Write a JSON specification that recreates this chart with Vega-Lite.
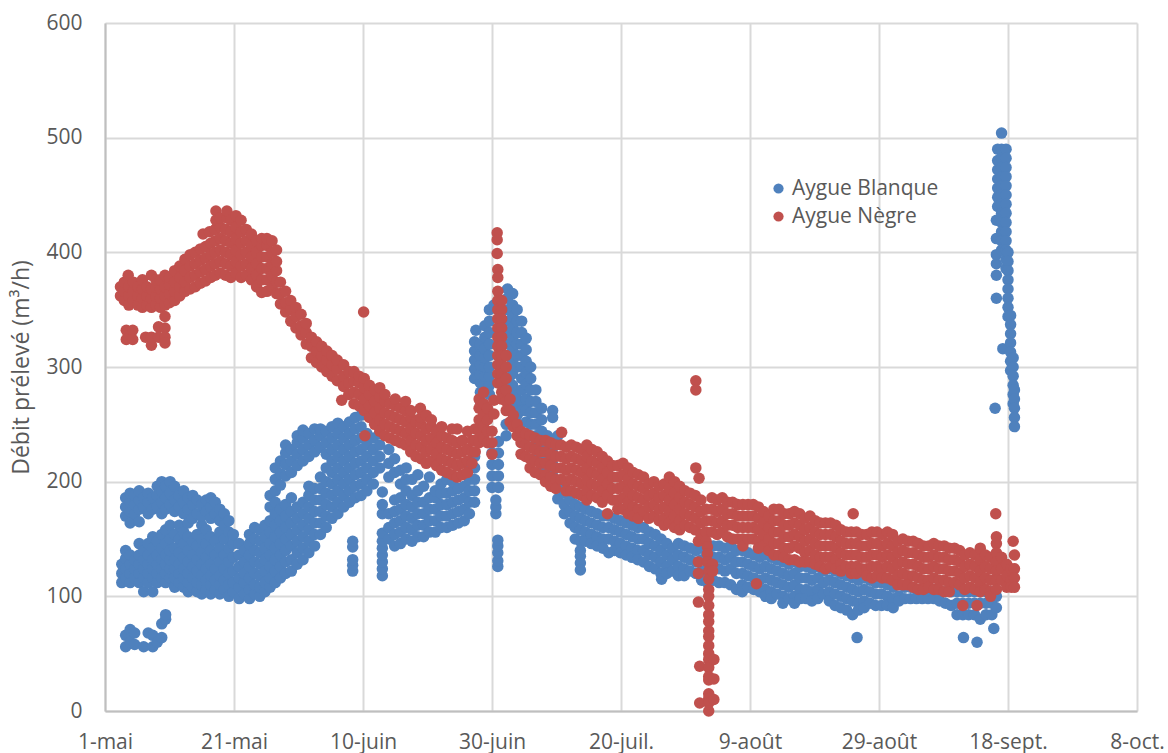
{"$schema":"https://vega.github.io/schema/vega-lite/v6.json","width":1032,"height":688,"autosize":"none","padding":{"left":105,"top":23,"right":31,"bottom":42},"background":"white","config":{"view":{"stroke":null},"font":"Open Sans"},"layer":[{"data":{"values":[{"d":2.6,"v":112},{"d":2.6,"v":120},{"d":2.6,"v":128},{"d":3.2,"v":56},{"d":3.2,"v":66},{"d":3.2,"v":116},{"d":3.2,"v":124},{"d":3.2,"v":133},{"d":3.2,"v":140},{"d":3.2,"v":170},{"d":3.2,"v":178},{"d":3.2,"v":186},{"d":3.9,"v":60},{"d":3.9,"v":71},{"d":3.9,"v":112},{"d":3.9,"v":120},{"d":3.9,"v":128},{"d":3.9,"v":136},{"d":3.9,"v":164},{"d":3.9,"v":174},{"d":3.9,"v":182},{"d":3.9,"v":190},{"d":4.6,"v":58},{"d":4.6,"v":68},{"d":4.6,"v":116},{"d":4.6,"v":124},{"d":4.6,"v":132},{"d":4.6,"v":172},{"d":4.6,"v":180},{"d":4.6,"v":188},{"d":5.3,"v":112},{"d":5.3,"v":120},{"d":5.3,"v":128},{"d":5.3,"v":136},{"d":5.3,"v":146},{"d":5.3,"v":165},{"d":5.3,"v":176},{"d":5.3,"v":184},{"d":5.3,"v":192},{"d":6,"v":56},{"d":6,"v":104},{"d":6,"v":116},{"d":6,"v":124},{"d":6,"v":132},{"d":6,"v":140},{"d":6,"v":178},{"d":6,"v":186},{"d":6.7,"v":68},{"d":6.7,"v":112},{"d":6.7,"v":120},{"d":6.7,"v":128},{"d":6.7,"v":136},{"d":6.7,"v":146},{"d":6.7,"v":172},{"d":6.7,"v":182},{"d":6.7,"v":190},{"d":7.4,"v":56},{"d":7.4,"v":66},{"d":7.4,"v":104},{"d":7.4,"v":116},{"d":7.4,"v":124},{"d":7.4,"v":132},{"d":7.4,"v":142},{"d":7.4,"v":152},{"d":7.4,"v":176},{"d":7.4,"v":186},{"d":8.1,"v":60},{"d":8.1,"v":112},{"d":8.1,"v":120},{"d":8.1,"v":128},{"d":8.1,"v":136},{"d":8.1,"v":148},{"d":8.1,"v":178},{"d":8.1,"v":188},{"d":8.1,"v":196},{"d":8.8,"v":64},{"d":8.8,"v":76},{"d":8.8,"v":116},{"d":8.8,"v":124},{"d":8.8,"v":132},{"d":8.8,"v":142},{"d":8.8,"v":154},{"d":8.8,"v":172},{"d":8.8,"v":182},{"d":8.8,"v":192},{"d":8.8,"v":200},{"d":9.4,"v":80},{"d":9.4,"v":84},{"d":9.4,"v":112},{"d":9.4,"v":120},{"d":9.4,"v":128},{"d":9.4,"v":136},{"d":9.4,"v":146},{"d":9.4,"v":158},{"d":9.4,"v":176},{"d":9.4,"v":186},{"d":9.4,"v":196},{"d":10.1,"v":116},{"d":10.1,"v":124},{"d":10.1,"v":132},{"d":10.1,"v":140},{"d":10.1,"v":150},{"d":10.1,"v":162},{"d":10.1,"v":180},{"d":10.1,"v":190},{"d":10.1,"v":200},{"d":10.8,"v":108},{"d":10.8,"v":116},{"d":10.8,"v":124},{"d":10.8,"v":132},{"d":10.8,"v":142},{"d":10.8,"v":154},{"d":10.8,"v":174},{"d":10.8,"v":184},{"d":10.8,"v":196},{"d":11.5,"v":112},{"d":11.5,"v":120},{"d":11.5,"v":128},{"d":11.5,"v":138},{"d":11.5,"v":150},{"d":11.5,"v":162},{"d":11.5,"v":178},{"d":11.5,"v":188},{"d":12.2,"v":108},{"d":12.2,"v":116},{"d":12.2,"v":124},{"d":12.2,"v":134},{"d":12.2,"v":146},{"d":12.2,"v":156},{"d":12.2,"v":172},{"d":12.2,"v":182},{"d":12.2,"v":192},{"d":12.9,"v":104},{"d":12.9,"v":112},{"d":12.9,"v":120},{"d":12.9,"v":130},{"d":12.9,"v":140},{"d":12.9,"v":152},{"d":12.9,"v":164},{"d":12.9,"v":176},{"d":12.9,"v":186},{"d":13.6,"v":108},{"d":13.6,"v":116},{"d":13.6,"v":126},{"d":13.6,"v":136},{"d":13.6,"v":148},{"d":13.6,"v":168},{"d":13.6,"v":180},{"d":13.6,"v":188},{"d":14.3,"v":104},{"d":14.3,"v":112},{"d":14.3,"v":122},{"d":14.3,"v":132},{"d":14.3,"v":144},{"d":14.3,"v":154},{"d":14.3,"v":172},{"d":14.3,"v":184},{"d":15,"v":102},{"d":15,"v":110},{"d":15,"v":118},{"d":15,"v":128},{"d":15,"v":138},{"d":15,"v":150},{"d":15,"v":162},{"d":15,"v":170},{"d":15,"v":180},{"d":15.7,"v":106},{"d":15.7,"v":114},{"d":15.7,"v":124},{"d":15.7,"v":134},{"d":15.7,"v":146},{"d":15.7,"v":158},{"d":15.7,"v":174},{"d":15.7,"v":184},{"d":16.4,"v":102},{"d":16.4,"v":110},{"d":16.4,"v":118},{"d":16.4,"v":128},{"d":16.4,"v":140},{"d":16.4,"v":152},{"d":16.4,"v":168},{"d":16.4,"v":178},{"d":16.4,"v":186},{"d":17.1,"v":106},{"d":17.1,"v":114},{"d":17.1,"v":124},{"d":17.1,"v":136},{"d":17.1,"v":148},{"d":17.1,"v":172},{"d":17.1,"v":182},{"d":17.8,"v":102},{"d":17.8,"v":110},{"d":17.8,"v":118},{"d":17.8,"v":130},{"d":17.8,"v":142},{"d":17.8,"v":156},{"d":17.8,"v":166},{"d":17.8,"v":176},{"d":18.5,"v":106},{"d":18.5,"v":114},{"d":18.5,"v":124},{"d":18.5,"v":136},{"d":18.5,"v":150},{"d":18.5,"v":162},{"d":18.5,"v":172},{"d":19.2,"v":100},{"d":19.2,"v":110},{"d":19.2,"v":120},{"d":19.2,"v":130},{"d":19.2,"v":142},{"d":19.2,"v":156},{"d":19.2,"v":166},{"d":19.9,"v":104},{"d":19.9,"v":112},{"d":19.9,"v":122},{"d":19.9,"v":134},{"d":19.9,"v":146},{"d":19.9,"v":154},{"d":20.8,"v":98},{"d":20.8,"v":108},{"d":20.8,"v":116},{"d":20.8,"v":126},{"d":20.8,"v":136},{"d":20.8,"v":146},{"d":21.6,"v":102},{"d":21.6,"v":112},{"d":21.6,"v":120},{"d":21.6,"v":130},{"d":21.6,"v":140},{"d":22.4,"v":98},{"d":22.4,"v":106},{"d":22.4,"v":116},{"d":22.4,"v":126},{"d":22.4,"v":136},{"d":22.4,"v":146},{"d":22.4,"v":154},{"d":23.2,"v":102},{"d":23.2,"v":110},{"d":23.2,"v":120},{"d":23.2,"v":130},{"d":23.2,"v":140},{"d":23.2,"v":150},{"d":23.2,"v":160},{"d":24,"v":100},{"d":24,"v":108},{"d":24,"v":118},{"d":24,"v":128},{"d":24,"v":138},{"d":24,"v":148},{"d":24,"v":158},{"d":24.8,"v":104},{"d":24.8,"v":112},{"d":24.8,"v":122},{"d":24.8,"v":132},{"d":24.8,"v":142},{"d":24.8,"v":152},{"d":24.8,"v":162},{"d":25.6,"v":108},{"d":25.6,"v":116},{"d":25.6,"v":126},{"d":25.6,"v":136},{"d":25.6,"v":146},{"d":25.6,"v":156},{"d":25.6,"v":166},{"d":25.6,"v":178},{"d":25.6,"v":188},{"d":26.4,"v":112},{"d":26.4,"v":122},{"d":26.4,"v":132},{"d":26.4,"v":142},{"d":26.4,"v":152},{"d":26.4,"v":162},{"d":26.4,"v":172},{"d":26.4,"v":182},{"d":26.4,"v":192},{"d":26.4,"v":202},{"d":26.4,"v":212},{"d":27.2,"v":116},{"d":27.2,"v":126},{"d":27.2,"v":136},{"d":27.2,"v":146},{"d":27.2,"v":156},{"d":27.2,"v":166},{"d":27.2,"v":176},{"d":27.2,"v":197},{"d":27.2,"v":207},{"d":27.2,"v":218},{"d":28,"v":120},{"d":28,"v":130},{"d":28,"v":140},{"d":28,"v":150},{"d":28,"v":160},{"d":28,"v":170},{"d":28,"v":180},{"d":28,"v":205},{"d":28,"v":215},{"d":28,"v":225},{"d":28,"v":232},{"d":28.9,"v":122},{"d":28.9,"v":132},{"d":28.9,"v":144},{"d":28.9,"v":154},{"d":28.9,"v":164},{"d":28.9,"v":174},{"d":28.9,"v":186},{"d":28.9,"v":208},{"d":28.9,"v":218},{"d":28.9,"v":228},{"d":29.8,"v":128},{"d":29.8,"v":138},{"d":29.8,"v":148},{"d":29.8,"v":158},{"d":29.8,"v":168},{"d":29.8,"v":178},{"d":29.8,"v":214},{"d":29.8,"v":224},{"d":29.8,"v":234},{"d":29.8,"v":240},{"d":30.7,"v":132},{"d":30.7,"v":142},{"d":30.7,"v":152},{"d":30.7,"v":162},{"d":30.7,"v":172},{"d":30.7,"v":182},{"d":30.7,"v":218},{"d":30.7,"v":228},{"d":30.7,"v":238},{"d":30.7,"v":245},{"d":31.6,"v":138},{"d":31.6,"v":148},{"d":31.6,"v":158},{"d":31.6,"v":168},{"d":31.6,"v":178},{"d":31.6,"v":188},{"d":31.6,"v":196},{"d":31.6,"v":222},{"d":31.6,"v":232},{"d":31.6,"v":242},{"d":32.5,"v":144},{"d":32.5,"v":154},{"d":32.5,"v":164},{"d":32.5,"v":174},{"d":32.5,"v":184},{"d":32.5,"v":194},{"d":32.5,"v":226},{"d":32.5,"v":236},{"d":32.5,"v":246},{"d":33.4,"v":154},{"d":33.4,"v":164},{"d":33.4,"v":174},{"d":33.4,"v":184},{"d":33.4,"v":194},{"d":33.4,"v":204},{"d":33.4,"v":230},{"d":33.4,"v":240},{"d":33.4,"v":246},{"d":34.3,"v":160},{"d":34.3,"v":170},{"d":34.3,"v":180},{"d":34.3,"v":190},{"d":34.3,"v":200},{"d":34.3,"v":212},{"d":34.3,"v":224},{"d":34.3,"v":234},{"d":34.3,"v":244},{"d":35.2,"v":168},{"d":35.2,"v":178},{"d":35.2,"v":188},{"d":35.2,"v":198},{"d":35.2,"v":208},{"d":35.2,"v":218},{"d":35.2,"v":228},{"d":35.2,"v":238},{"d":35.2,"v":248},{"d":36.1,"v":172},{"d":36.1,"v":182},{"d":36.1,"v":192},{"d":36.1,"v":202},{"d":36.1,"v":212},{"d":36.1,"v":222},{"d":36.1,"v":232},{"d":36.1,"v":242},{"d":36.1,"v":251},{"d":37,"v":178},{"d":37,"v":188},{"d":37,"v":198},{"d":37,"v":208},{"d":37,"v":218},{"d":37,"v":228},{"d":37,"v":238},{"d":37,"v":248},{"d":37.9,"v":182},{"d":37.9,"v":192},{"d":37.9,"v":202},{"d":37.9,"v":212},{"d":37.9,"v":222},{"d":37.9,"v":232},{"d":37.9,"v":242},{"d":37.9,"v":252},{"d":38.4,"v":122},{"d":38.4,"v":127},{"d":38.4,"v":132},{"d":38.4,"v":143},{"d":38.4,"v":148},{"d":38.8,"v":186},{"d":38.8,"v":196},{"d":38.8,"v":206},{"d":38.8,"v":216},{"d":38.8,"v":226},{"d":38.8,"v":236},{"d":38.8,"v":246},{"d":38.8,"v":256},{"d":39.7,"v":188},{"d":39.7,"v":198},{"d":39.7,"v":208},{"d":39.7,"v":218},{"d":39.7,"v":228},{"d":39.7,"v":238},{"d":39.7,"v":248},{"d":39.7,"v":258},{"d":40.6,"v":192},{"d":40.6,"v":202},{"d":40.6,"v":212},{"d":40.6,"v":222},{"d":40.6,"v":232},{"d":40.6,"v":242},{"d":41.6,"v":198},{"d":41.6,"v":208},{"d":41.6,"v":218},{"d":41.6,"v":228},{"d":41.6,"v":238},{"d":42.6,"v":212},{"d":42.6,"v":222},{"d":42.6,"v":232},{"d":42.6,"v":242},{"d":43,"v":118},{"d":43,"v":124},{"d":43,"v":130},{"d":43,"v":136},{"d":43,"v":142},{"d":43,"v":148},{"d":43,"v":155},{"d":43,"v":172},{"d":43,"v":180},{"d":43,"v":191},{"d":44,"v":150},{"d":44,"v":160},{"d":44,"v":172},{"d":44,"v":204},{"d":44,"v":216},{"d":44,"v":228},{"d":44.9,"v":144},{"d":44.9,"v":154},{"d":44.9,"v":164},{"d":44.9,"v":174},{"d":44.9,"v":184},{"d":44.9,"v":208},{"d":44.9,"v":220},{"d":45.8,"v":146},{"d":45.8,"v":156},{"d":45.8,"v":166},{"d":45.8,"v":176},{"d":45.8,"v":186},{"d":45.8,"v":198},{"d":45.8,"v":210},{"d":46.7,"v":150},{"d":46.7,"v":160},{"d":46.7,"v":170},{"d":46.7,"v":180},{"d":46.7,"v":192},{"d":46.7,"v":202},{"d":46.7,"v":212},{"d":47.6,"v":148},{"d":47.6,"v":158},{"d":47.6,"v":168},{"d":47.6,"v":178},{"d":47.6,"v":188},{"d":47.6,"v":202},{"d":48.5,"v":152},{"d":48.5,"v":162},{"d":48.5,"v":172},{"d":48.5,"v":182},{"d":48.5,"v":192},{"d":48.5,"v":206},{"d":49.4,"v":152},{"d":49.4,"v":162},{"d":49.4,"v":172},{"d":49.4,"v":182},{"d":49.4,"v":196},{"d":50.3,"v":156},{"d":50.3,"v":166},{"d":50.3,"v":176},{"d":50.3,"v":186},{"d":50.3,"v":204},{"d":51.2,"v":156},{"d":51.2,"v":166},{"d":51.2,"v":176},{"d":51.2,"v":186},{"d":51.2,"v":192},{"d":52.1,"v":160},{"d":52.1,"v":170},{"d":52.1,"v":180},{"d":52.1,"v":190},{"d":52.1,"v":198},{"d":53,"v":160},{"d":53,"v":170},{"d":53,"v":180},{"d":53,"v":190},{"d":53,"v":202},{"d":53.9,"v":162},{"d":53.9,"v":172},{"d":53.9,"v":182},{"d":53.9,"v":192},{"d":53.9,"v":200},{"d":54.8,"v":164},{"d":54.8,"v":174},{"d":54.8,"v":184},{"d":54.8,"v":194},{"d":55.7,"v":166},{"d":55.7,"v":176},{"d":55.7,"v":186},{"d":55.7,"v":196},{"d":56.5,"v":172},{"d":56.5,"v":182},{"d":56.5,"v":192},{"d":56.5,"v":202},{"d":56.5,"v":212},{"d":57.3,"v":182},{"d":57.3,"v":192},{"d":57.3,"v":202},{"d":57.3,"v":212},{"d":57.3,"v":222},{"d":57.3,"v":290},{"d":57.3,"v":298},{"d":57.3,"v":306},{"d":57.3,"v":314},{"d":57.3,"v":322},{"d":57.5,"v":332},{"d":58.2,"v":270},{"d":58.2,"v":278},{"d":58.2,"v":286},{"d":58.2,"v":294},{"d":58.2,"v":302},{"d":58.2,"v":310},{"d":58.2,"v":318},{"d":58.2,"v":320},{"d":58.9,"v":284},{"d":58.9,"v":292},{"d":58.9,"v":300},{"d":58.9,"v":308},{"d":58.9,"v":316},{"d":58.9,"v":326},{"d":58.9,"v":336},{"d":59.6,"v":276},{"d":59.6,"v":284},{"d":59.6,"v":292},{"d":59.6,"v":300},{"d":59.6,"v":310},{"d":59.6,"v":320},{"d":59.6,"v":330},{"d":59.6,"v":340},{"d":59.6,"v":350},{"d":60,"v":195},{"d":60,"v":205},{"d":60,"v":215},{"d":60,"v":225},{"d":60.3,"v":354},{"d":60.6,"v":172},{"d":60.6,"v":178},{"d":60.6,"v":184},{"d":60.9,"v":126},{"d":60.9,"v":131},{"d":60.9,"v":138},{"d":60.9,"v":144},{"d":60.9,"v":149},{"d":61,"v":195},{"d":61,"v":205},{"d":61,"v":215},{"d":61,"v":225},{"d":61,"v":235},{"d":62.2,"v":240},{"d":62.2,"v":250},{"d":62.4,"v":368},{"d":62.4,"v":360},{"d":62.4,"v":350},{"d":62.6,"v":340},{"d":62.6,"v":330},{"d":62.6,"v":320},{"d":62.6,"v":310},{"d":62.6,"v":300},{"d":62.6,"v":290},{"d":62.6,"v":280},{"d":63.2,"v":364},{"d":63.2,"v":354},{"d":63.2,"v":344},{"d":63.2,"v":334},{"d":63.2,"v":324},{"d":63.2,"v":314},{"d":63.2,"v":304},{"d":63.2,"v":294},{"d":63.2,"v":284},{"d":63.2,"v":274},{"d":63.2,"v":264},{"d":63.9,"v":350},{"d":63.9,"v":340},{"d":63.9,"v":330},{"d":63.9,"v":320},{"d":63.9,"v":310},{"d":63.9,"v":300},{"d":63.9,"v":278},{"d":63.9,"v":268},{"d":63.9,"v":258},{"d":64.6,"v":340},{"d":64.6,"v":330},{"d":64.6,"v":320},{"d":64.6,"v":310},{"d":64.6,"v":300},{"d":64.6,"v":290},{"d":64.6,"v":280},{"d":64.6,"v":270},{"d":64.6,"v":262},{"d":65.3,"v":325},{"d":65.3,"v":315},{"d":65.3,"v":305},{"d":65.3,"v":295},{"d":65.3,"v":285},{"d":65.3,"v":272},{"d":65.3,"v":262},{"d":65.3,"v":252},{"d":65.3,"v":240},{"d":66,"v":300},{"d":66,"v":290},{"d":66,"v":280},{"d":66,"v":270},{"d":66,"v":260},{"d":66,"v":250},{"d":66,"v":240},{"d":66,"v":230},{"d":66.8,"v":280},{"d":66.8,"v":270},{"d":66.8,"v":260},{"d":66.8,"v":250},{"d":66.8,"v":240},{"d":66.8,"v":230},{"d":66.8,"v":220},{"d":67.7,"v":264},{"d":67.7,"v":254},{"d":67.7,"v":244},{"d":67.7,"v":232},{"d":67.7,"v":220},{"d":67.7,"v":210},{"d":68.6,"v":240},{"d":68.6,"v":230},{"d":68.6,"v":220},{"d":68.6,"v":210},{"d":69.4,"v":262},{"d":69.4,"v":256},{"d":69.4,"v":225},{"d":69.4,"v":215},{"d":69.4,"v":205},{"d":70.2,"v":240},{"d":70.2,"v":195},{"d":70.2,"v":185},{"d":71.2,"v":190},{"d":71.2,"v":180},{"d":71.2,"v":172},{"d":72.1,"v":184},{"d":72.1,"v":174},{"d":72.1,"v":164},{"d":72.9,"v":180},{"d":72.9,"v":170},{"d":72.9,"v":160},{"d":72.9,"v":150},{"d":73.7,"v":178},{"d":73.7,"v":168},{"d":73.7,"v":158},{"d":73.7,"v":148},{"d":73.7,"v":140},{"d":73.7,"v":135},{"d":73.7,"v":129},{"d":73.7,"v":123},{"d":74.5,"v":176},{"d":74.5,"v":166},{"d":74.5,"v":156},{"d":74.5,"v":148},{"d":75.4,"v":174},{"d":75.4,"v":164},{"d":75.4,"v":154},{"d":75.4,"v":146},{"d":76.3,"v":172},{"d":76.3,"v":162},{"d":76.3,"v":152},{"d":76.3,"v":144},{"d":77.2,"v":170},{"d":77.2,"v":160},{"d":77.2,"v":150},{"d":77.2,"v":142},{"d":78.1,"v":170},{"d":78.1,"v":160},{"d":78.1,"v":150},{"d":78.1,"v":138},{"d":79,"v":168},{"d":79,"v":158},{"d":79,"v":148},{"d":79,"v":140},{"d":79.9,"v":166},{"d":79.9,"v":156},{"d":79.9,"v":146},{"d":79.9,"v":138},{"d":80.8,"v":164},{"d":80.8,"v":154},{"d":80.8,"v":144},{"d":80.8,"v":136},{"d":81.7,"v":162},{"d":81.7,"v":152},{"d":81.7,"v":142},{"d":81.7,"v":134},{"d":82.6,"v":160},{"d":82.6,"v":150},{"d":82.6,"v":140},{"d":82.6,"v":132},{"d":83.5,"v":160},{"d":83.5,"v":150},{"d":83.5,"v":140},{"d":83.5,"v":130},{"d":84.4,"v":156},{"d":84.4,"v":146},{"d":84.4,"v":136},{"d":84.4,"v":126},{"d":85.3,"v":154},{"d":85.3,"v":144},{"d":85.3,"v":134},{"d":85.3,"v":124},{"d":86.2,"v":150},{"d":86.2,"v":140},{"d":86.2,"v":130},{"d":86.2,"v":120},{"d":86.3,"v":115},{"d":87.1,"v":146},{"d":87.1,"v":136},{"d":87.1,"v":126},{"d":87.1,"v":120},{"d":88,"v":142},{"d":88,"v":132},{"d":88,"v":122},{"d":88.9,"v":146},{"d":88.9,"v":136},{"d":88.9,"v":126},{"d":88.9,"v":118},{"d":89.8,"v":144},{"d":89.8,"v":134},{"d":89.8,"v":124},{"d":89.8,"v":118},{"d":90.7,"v":142},{"d":90.7,"v":132},{"d":90.7,"v":122},{"d":91.6,"v":140},{"d":91.6,"v":130},{"d":91.6,"v":120},{"d":92.5,"v":142},{"d":92.5,"v":132},{"d":92.5,"v":122},{"d":92.5,"v":114},{"d":93.4,"v":140},{"d":93.4,"v":130},{"d":93.4,"v":120},{"d":93.4,"v":112},{"d":94.3,"v":144},{"d":94.3,"v":134},{"d":94.3,"v":124},{"d":94.3,"v":114},{"d":95.2,"v":144},{"d":95.2,"v":134},{"d":95.2,"v":124},{"d":95.2,"v":112},{"d":96.1,"v":142},{"d":96.1,"v":132},{"d":96.1,"v":122},{"d":96.1,"v":112},{"d":97,"v":144},{"d":97,"v":134},{"d":97,"v":124},{"d":97,"v":110},{"d":97.9,"v":140},{"d":97.9,"v":130},{"d":97.9,"v":120},{"d":97.9,"v":106},{"d":98.8,"v":140},{"d":98.8,"v":130},{"d":98.8,"v":120},{"d":98.8,"v":110},{"d":98.8,"v":104},{"d":99.7,"v":138},{"d":99.7,"v":128},{"d":99.7,"v":118},{"d":99.7,"v":108},{"d":100.6,"v":136},{"d":100.6,"v":126},{"d":100.6,"v":116},{"d":100.6,"v":106},{"d":101.5,"v":134},{"d":101.5,"v":124},{"d":101.5,"v":114},{"d":101.5,"v":104},{"d":102.4,"v":136},{"d":102.4,"v":126},{"d":102.4,"v":116},{"d":102.4,"v":106},{"d":102.4,"v":100},{"d":103.3,"v":134},{"d":103.3,"v":124},{"d":103.3,"v":114},{"d":103.3,"v":104},{"d":103.3,"v":98},{"d":104.2,"v":132},{"d":104.2,"v":122},{"d":104.2,"v":112},{"d":104.2,"v":102},{"d":105.1,"v":130},{"d":105.1,"v":120},{"d":105.1,"v":110},{"d":105.1,"v":100},{"d":105.1,"v":94},{"d":106,"v":128},{"d":106,"v":118},{"d":106,"v":108},{"d":106,"v":98},{"d":106.9,"v":130},{"d":106.9,"v":120},{"d":106.9,"v":110},{"d":106.9,"v":100},{"d":106.9,"v":94},{"d":107.8,"v":126},{"d":107.8,"v":116},{"d":107.8,"v":106},{"d":107.8,"v":98},{"d":108.7,"v":126},{"d":108.7,"v":116},{"d":108.7,"v":106},{"d":108.7,"v":98},{"d":109.6,"v":124},{"d":109.6,"v":114},{"d":109.6,"v":104},{"d":109.6,"v":96},{"d":110.5,"v":126},{"d":110.5,"v":116},{"d":110.5,"v":106},{"d":110.5,"v":98},{"d":111.4,"v":122},{"d":111.4,"v":112},{"d":111.4,"v":102},{"d":112.3,"v":124},{"d":112.3,"v":114},{"d":112.3,"v":104},{"d":112.3,"v":96},{"d":113.2,"v":122},{"d":113.2,"v":112},{"d":113.2,"v":102},{"d":113.2,"v":92},{"d":114.1,"v":120},{"d":114.1,"v":110},{"d":114.1,"v":100},{"d":114.1,"v":90},{"d":115,"v":118},{"d":115,"v":108},{"d":115,"v":98},{"d":115,"v":88},{"d":115.9,"v":116},{"d":115.9,"v":106},{"d":115.9,"v":96},{"d":115.9,"v":84},{"d":116.6,"v":64},{"d":116.8,"v":114},{"d":116.8,"v":104},{"d":116.8,"v":94},{"d":116.8,"v":88},{"d":117.7,"v":116},{"d":117.7,"v":106},{"d":117.7,"v":96},{"d":117.7,"v":90},{"d":118.6,"v":114},{"d":118.6,"v":104},{"d":118.6,"v":94},{"d":119.5,"v":112},{"d":119.5,"v":102},{"d":119.5,"v":92},{"d":120.4,"v":112},{"d":120.4,"v":102},{"d":120.4,"v":92},{"d":121.3,"v":110},{"d":121.3,"v":100},{"d":121.3,"v":92},{"d":122.2,"v":108},{"d":122.2,"v":98},{"d":122.2,"v":90},{"d":123.1,"v":110},{"d":123.1,"v":100},{"d":123.1,"v":96},{"d":124,"v":108},{"d":124,"v":98},{"d":124.9,"v":108},{"d":124.9,"v":98},{"d":125.8,"v":106},{"d":125.8,"v":98},{"d":126.7,"v":106},{"d":126.7,"v":98},{"d":127.6,"v":106},{"d":127.6,"v":98},{"d":128.5,"v":106},{"d":128.5,"v":98},{"d":129.4,"v":104},{"d":129.4,"v":96},{"d":130.3,"v":104},{"d":130.3,"v":94},{"d":131.2,"v":104},{"d":131.2,"v":92},{"d":132.1,"v":104},{"d":132.1,"v":94},{"d":132.1,"v":84},{"d":133,"v":104},{"d":133,"v":94},{"d":133,"v":84},{"d":133.1,"v":64},{"d":133.9,"v":104},{"d":133.9,"v":94},{"d":133.9,"v":84},{"d":134.8,"v":104},{"d":134.8,"v":94},{"d":134.8,"v":84},{"d":135.2,"v":60},{"d":135.7,"v":104},{"d":135.7,"v":94},{"d":135.7,"v":80},{"d":136.6,"v":104},{"d":136.6,"v":94},{"d":136.6,"v":84},{"d":137.5,"v":104},{"d":137.5,"v":94},{"d":137.5,"v":84},{"d":137.8,"v":72},{"d":138,"v":264},{"d":138.2,"v":100},{"d":138.2,"v":90},{"d":138.2,"v":360},{"d":138.2,"v":380},{"d":138.2,"v":390},{"d":138.2,"v":398},{"d":138.2,"v":412},{"d":138.2,"v":428},{"d":138.4,"v":440},{"d":138.4,"v":448},{"d":138.4,"v":456},{"d":138.4,"v":464},{"d":138.4,"v":472},{"d":138.4,"v":480},{"d":138.4,"v":490},{"d":139,"v":504},{"d":139,"v":490},{"d":139,"v":482},{"d":139,"v":474},{"d":139,"v":466},{"d":139,"v":458},{"d":139,"v":450},{"d":139,"v":442},{"d":139,"v":434},{"d":139,"v":426},{"d":139,"v":418},{"d":139,"v":410},{"d":139,"v":402},{"d":139.2,"v":316},{"d":139.7,"v":490},{"d":139.7,"v":482},{"d":139.7,"v":474},{"d":139.7,"v":466},{"d":139.7,"v":458},{"d":139.7,"v":450},{"d":139.7,"v":442},{"d":139.7,"v":434},{"d":139.7,"v":426},{"d":139.7,"v":418},{"d":139.7,"v":410},{"d":139.7,"v":402},{"d":139.7,"v":394},{"d":139.7,"v":386},{"d":140,"v":400},{"d":140,"v":392},{"d":140,"v":384},{"d":140,"v":376},{"d":140,"v":368},{"d":140,"v":360},{"d":140,"v":352},{"d":140,"v":344},{"d":140.4,"v":345},{"d":140.4,"v":337},{"d":140.4,"v":329},{"d":140.4,"v":321},{"d":140.4,"v":313},{"d":140.4,"v":305},{"d":140.4,"v":297},{"d":140.8,"v":308},{"d":140.8,"v":300},{"d":140.8,"v":292},{"d":140.8,"v":284},{"d":140.8,"v":276},{"d":140.8,"v":268},{"d":141,"v":280},{"d":141,"v":272},{"d":141,"v":264},{"d":141,"v":256},{"d":141,"v":248}]},"mark":{"type":"circle","size":132,"opacity":1},"encoding":{"x":{"field":"d","type":"quantitative","scale":{"domain":[0,160],"nice":false},"axis":{"values":[0,20,40,60,80,100,120,140,160],"labelExpr":"['1-mai','21-mai','10-juin','30-juin','20-juil.','9-août','29-août','18-sept.','8-oct.'][datum.value/20]","title":null,"grid":true,"gridColor":"#D9D9D9","gridWidth":2,"domainColor":"#BFBFBF","domainWidth":2,"ticks":false,"labelFontSize":21,"labelColor":"#595959","labelPadding":20,"labelFont":"Open Sans","labelFlush":false,"labelBound":false,"labelOverlap":false}},"y":{"field":"v","type":"quantitative","scale":{"domain":[0,600],"nice":false},"axis":{"values":[0,100,200,300,400,500,600],"title":"Débit prélevé (m³/h)","titleFontSize":23,"titleColor":"#595959","titleFontWeight":"normal","titleFont":"Open Sans","titlePadding":12,"grid":true,"gridColor":"#D9D9D9","gridWidth":2,"domainColor":"#BFBFBF","domainWidth":2,"ticks":false,"labelFontSize":21,"labelColor":"#595959","labelPadding":23,"labelFont":"Open Sans"}},"color":{"datum":"Aygue Blanque","scale":{"domain":["Aygue Blanque","Aygue Nègre"],"range":["#4F81BD","#C0504D"]},"legend":{"orient":"none","legendX":663,"legendY":155,"title":null,"labelFontSize":21,"labelColor":"#595959","labelFont":"Open Sans","symbolType":"circle","symbolSize":105,"rowPadding":6,"labelOffset":3,"symbolOpacity":1}}}},{"data":{"values":[{"d":2.4,"v":362},{"d":2.4,"v":370},{"d":3,"v":358},{"d":3,"v":366},{"d":3,"v":374},{"d":3.3,"v":332},{"d":3.3,"v":324},{"d":3.6,"v":380},{"d":3.7,"v":354},{"d":3.7,"v":362},{"d":3.7,"v":370},{"d":4.3,"v":332},{"d":4.3,"v":324},{"d":4.4,"v":358},{"d":4.4,"v":366},{"d":4.4,"v":374},{"d":5.1,"v":354},{"d":5.1,"v":362},{"d":5.1,"v":370},{"d":5.8,"v":352},{"d":5.8,"v":360},{"d":5.8,"v":368},{"d":5.8,"v":376},{"d":6.3,"v":326},{"d":6.5,"v":354},{"d":6.5,"v":362},{"d":6.5,"v":370},{"d":7.2,"v":319},{"d":7.2,"v":326},{"d":7.2,"v":352},{"d":7.2,"v":360},{"d":7.2,"v":368},{"d":7.2,"v":380},{"d":7.9,"v":354},{"d":7.9,"v":362},{"d":7.9,"v":370},{"d":7.9,"v":376},{"d":8.3,"v":335},{"d":8.3,"v":326},{"d":8.6,"v":352},{"d":8.6,"v":360},{"d":8.6,"v":368},{"d":8.6,"v":376},{"d":9.3,"v":344},{"d":9.3,"v":334},{"d":9.3,"v":326},{"d":9.3,"v":321},{"d":9.3,"v":354},{"d":9.3,"v":362},{"d":9.3,"v":370},{"d":9.3,"v":380},{"d":10,"v":356},{"d":10,"v":364},{"d":10,"v":372},{"d":10,"v":378},{"d":10.8,"v":358},{"d":10.8,"v":366},{"d":10.8,"v":374},{"d":10.8,"v":384},{"d":11.6,"v":362},{"d":11.6,"v":370},{"d":11.6,"v":378},{"d":11.6,"v":388},{"d":12.4,"v":366},{"d":12.4,"v":374},{"d":12.4,"v":384},{"d":12.4,"v":394},{"d":13.2,"v":368},{"d":13.2,"v":378},{"d":13.2,"v":388},{"d":13.2,"v":398},{"d":14,"v":370},{"d":14,"v":380},{"d":14,"v":390},{"d":14,"v":400},{"d":14.8,"v":373},{"d":14.8,"v":383},{"d":14.8,"v":393},{"d":14.8,"v":403},{"d":15.2,"v":416},{"d":15.6,"v":375},{"d":15.6,"v":385},{"d":15.6,"v":395},{"d":15.6,"v":405},{"d":16.2,"v":418},{"d":16.4,"v":378},{"d":16.4,"v":388},{"d":16.4,"v":398},{"d":16.4,"v":408},{"d":17.1,"v":380},{"d":17.1,"v":390},{"d":17.1,"v":400},{"d":17.1,"v":410},{"d":17.1,"v":420},{"d":17.2,"v":436},{"d":17.2,"v":428},{"d":17.9,"v":382},{"d":17.9,"v":392},{"d":17.9,"v":402},{"d":17.9,"v":412},{"d":17.9,"v":422},{"d":17.9,"v":430},{"d":18.7,"v":380},{"d":18.7,"v":390},{"d":18.7,"v":400},{"d":18.7,"v":410},{"d":18.7,"v":420},{"d":18.9,"v":430},{"d":18.9,"v":436},{"d":19.5,"v":378},{"d":19.5,"v":388},{"d":19.5,"v":398},{"d":19.5,"v":408},{"d":19.5,"v":418},{"d":19.5,"v":428},{"d":20.3,"v":382},{"d":20.3,"v":392},{"d":20.3,"v":402},{"d":20.3,"v":412},{"d":20.3,"v":422},{"d":20.3,"v":432},{"d":21.1,"v":378},{"d":21.1,"v":388},{"d":21.1,"v":398},{"d":21.1,"v":408},{"d":21.1,"v":418},{"d":21.1,"v":428},{"d":21.9,"v":380},{"d":21.9,"v":390},{"d":21.9,"v":400},{"d":21.9,"v":410},{"d":21.9,"v":420},{"d":22.7,"v":376},{"d":22.7,"v":386},{"d":22.7,"v":396},{"d":22.7,"v":406},{"d":22.7,"v":416},{"d":23.5,"v":370},{"d":23.5,"v":380},{"d":23.5,"v":390},{"d":23.5,"v":400},{"d":23.5,"v":410},{"d":24.3,"v":365},{"d":24.3,"v":376},{"d":24.3,"v":386},{"d":24.3,"v":396},{"d":24.3,"v":406},{"d":24.3,"v":412},{"d":25.1,"v":366},{"d":25.1,"v":376},{"d":25.1,"v":386},{"d":25.1,"v":396},{"d":25.1,"v":406},{"d":25.1,"v":412},{"d":25.9,"v":370},{"d":25.9,"v":380},{"d":25.9,"v":390},{"d":25.9,"v":400},{"d":25.9,"v":410},{"d":26.6,"v":364},{"d":26.6,"v":374},{"d":26.6,"v":384},{"d":26.6,"v":392},{"d":26.6,"v":402},{"d":27.2,"v":355},{"d":27.2,"v":364},{"d":27.2,"v":374},{"d":28,"v":348},{"d":28,"v":356},{"d":28,"v":366},{"d":28.8,"v":340},{"d":28.8,"v":350},{"d":28.8,"v":358},{"d":29.6,"v":334},{"d":29.6,"v":344},{"d":29.6,"v":352},{"d":30.4,"v":328},{"d":30.4,"v":336},{"d":30.4,"v":346},{"d":31.2,"v":320},{"d":31.2,"v":330},{"d":31.2,"v":338},{"d":32,"v":308},{"d":32,"v":318},{"d":32,"v":326},{"d":32.8,"v":304},{"d":32.8,"v":314},{"d":32.8,"v":322},{"d":33.6,"v":300},{"d":33.6,"v":310},{"d":33.6,"v":318},{"d":34.4,"v":296},{"d":34.4,"v":306},{"d":34.4,"v":314},{"d":35.2,"v":292},{"d":35.2,"v":302},{"d":35.2,"v":310},{"d":36,"v":288},{"d":36,"v":298},{"d":36,"v":306},{"d":36.7,"v":271},{"d":37,"v":283},{"d":37,"v":292},{"d":37,"v":302},{"d":37.8,"v":276},{"d":37.8,"v":286},{"d":37.8,"v":296},{"d":38.6,"v":268},{"d":38.6,"v":278},{"d":38.6,"v":288},{"d":38.6,"v":296},{"d":39.4,"v":266},{"d":39.4,"v":276},{"d":39.4,"v":286},{"d":39.4,"v":292},{"d":40.1,"v":348},{"d":40.3,"v":240},{"d":40.2,"v":262},{"d":40.2,"v":272},{"d":40.2,"v":282},{"d":40.2,"v":290},{"d":41,"v":256},{"d":41,"v":266},{"d":41,"v":276},{"d":41,"v":284},{"d":41.8,"v":250},{"d":41.8,"v":260},{"d":41.8,"v":270},{"d":41.8,"v":280},{"d":42.6,"v":244},{"d":42.6,"v":254},{"d":42.6,"v":264},{"d":42.6,"v":274},{"d":42.6,"v":282},{"d":43.4,"v":240},{"d":43.4,"v":250},{"d":43.4,"v":260},{"d":43.4,"v":270},{"d":43.4,"v":276},{"d":44.2,"v":238},{"d":44.2,"v":248},{"d":44.2,"v":258},{"d":44.2,"v":268},{"d":45,"v":236},{"d":45,"v":246},{"d":45,"v":256},{"d":45,"v":266},{"d":45,"v":272},{"d":45.8,"v":234},{"d":45.8,"v":244},{"d":45.8,"v":254},{"d":45.8,"v":264},{"d":46.6,"v":232},{"d":46.6,"v":242},{"d":46.6,"v":252},{"d":46.6,"v":262},{"d":46.6,"v":270},{"d":47.4,"v":226},{"d":47.4,"v":236},{"d":47.4,"v":246},{"d":47.4,"v":256},{"d":47.4,"v":262},{"d":48.2,"v":222},{"d":48.2,"v":232},{"d":48.2,"v":242},{"d":48.2,"v":252},{"d":48.9,"v":264},{"d":49,"v":220},{"d":49,"v":230},{"d":49,"v":240},{"d":49,"v":250},{"d":49,"v":256},{"d":49.8,"v":216},{"d":49.8,"v":226},{"d":49.8,"v":236},{"d":49.8,"v":246},{"d":49.8,"v":258},{"d":50.6,"v":218},{"d":50.6,"v":228},{"d":50.6,"v":238},{"d":50.6,"v":248},{"d":50.6,"v":254},{"d":51.4,"v":214},{"d":51.4,"v":224},{"d":51.4,"v":234},{"d":51.4,"v":244},{"d":52.2,"v":210},{"d":52.2,"v":220},{"d":52.2,"v":230},{"d":52.2,"v":240},{"d":52.2,"v":248},{"d":53,"v":208},{"d":53,"v":218},{"d":53,"v":228},{"d":53,"v":238},{"d":53.8,"v":206},{"d":53.8,"v":216},{"d":53.8,"v":226},{"d":53.8,"v":236},{"d":53.8,"v":246},{"d":54.6,"v":204},{"d":54.6,"v":214},{"d":54.6,"v":224},{"d":54.6,"v":234},{"d":54.6,"v":246},{"d":55.4,"v":206},{"d":55.4,"v":216},{"d":55.4,"v":226},{"d":55.4,"v":236},{"d":56.2,"v":208},{"d":56.2,"v":218},{"d":56.2,"v":228},{"d":56.2,"v":244},{"d":56.9,"v":216},{"d":56.9,"v":226},{"d":56.9,"v":236},{"d":57.4,"v":226},{"d":57.4,"v":236},{"d":57.4,"v":246},{"d":58,"v":234},{"d":58,"v":244},{"d":58,"v":254},{"d":58,"v":264},{"d":58,"v":272},{"d":58.7,"v":238},{"d":58.7,"v":248},{"d":58.7,"v":258},{"d":58.7,"v":268},{"d":58.7,"v":278},{"d":59.3,"v":234},{"d":59.3,"v":244},{"d":59.3,"v":254},{"d":59.3,"v":264},{"d":60,"v":224},{"d":60,"v":234},{"d":60,"v":244},{"d":60.3,"v":271},{"d":60.3,"v":259},{"d":60.8,"v":417},{"d":60.8,"v":411},{"d":60.8,"v":399},{"d":60.9,"v":385},{"d":60.9,"v":378},{"d":60.9,"v":366},{"d":60.9,"v":358},{"d":60.9,"v":350},{"d":60.9,"v":342},{"d":60.9,"v":334},{"d":60.9,"v":326},{"d":60.9,"v":318},{"d":60.9,"v":310},{"d":60.9,"v":302},{"d":60.9,"v":294},{"d":60.9,"v":286},{"d":61.5,"v":358},{"d":61.5,"v":350},{"d":61.5,"v":342},{"d":61.5,"v":334},{"d":61.5,"v":326},{"d":61.5,"v":318},{"d":61.5,"v":310},{"d":61.5,"v":302},{"d":61.5,"v":294},{"d":61.5,"v":286},{"d":61.5,"v":278},{"d":61.5,"v":272},{"d":62.2,"v":310},{"d":62.2,"v":300},{"d":62.2,"v":290},{"d":62.2,"v":280},{"d":62.2,"v":270},{"d":62.2,"v":262},{"d":62.8,"v":272},{"d":62.8,"v":262},{"d":62.8,"v":252},{"d":63.3,"v":258},{"d":63.3,"v":248},{"d":63.9,"v":250},{"d":63.9,"v":240},{"d":64.5,"v":244},{"d":64.5,"v":234},{"d":64.5,"v":224},{"d":65.2,"v":242},{"d":65.2,"v":232},{"d":65.2,"v":222},{"d":65.9,"v":240},{"d":65.9,"v":230},{"d":65.9,"v":220},{"d":65.9,"v":212},{"d":66.7,"v":238},{"d":66.7,"v":228},{"d":66.7,"v":218},{"d":66.7,"v":208},{"d":67.5,"v":236},{"d":67.5,"v":226},{"d":67.5,"v":216},{"d":67.5,"v":206},{"d":68.3,"v":236},{"d":68.3,"v":226},{"d":68.3,"v":216},{"d":68.3,"v":206},{"d":68.3,"v":200},{"d":69.1,"v":234},{"d":69.1,"v":224},{"d":69.1,"v":214},{"d":69.1,"v":204},{"d":69.1,"v":196},{"d":69.9,"v":232},{"d":69.9,"v":222},{"d":69.9,"v":212},{"d":69.9,"v":202},{"d":69.9,"v":194},{"d":70.8,"v":243},{"d":70.7,"v":232},{"d":70.7,"v":222},{"d":70.7,"v":212},{"d":70.7,"v":202},{"d":71.5,"v":230},{"d":71.5,"v":220},{"d":71.5,"v":210},{"d":71.5,"v":200},{"d":71.5,"v":192},{"d":72.3,"v":232},{"d":72.3,"v":222},{"d":72.3,"v":212},{"d":72.3,"v":202},{"d":72.3,"v":192},{"d":73.1,"v":230},{"d":73.1,"v":220},{"d":73.1,"v":210},{"d":73.1,"v":200},{"d":73.1,"v":190},{"d":73.9,"v":228},{"d":73.9,"v":218},{"d":73.9,"v":208},{"d":73.9,"v":198},{"d":73.9,"v":188},{"d":74.7,"v":232},{"d":74.7,"v":222},{"d":74.7,"v":212},{"d":74.7,"v":202},{"d":74.7,"v":192},{"d":74.7,"v":184},{"d":75.5,"v":228},{"d":75.5,"v":218},{"d":75.5,"v":208},{"d":75.5,"v":198},{"d":75.5,"v":188},{"d":76.3,"v":226},{"d":76.3,"v":216},{"d":76.3,"v":206},{"d":76.3,"v":196},{"d":76.3,"v":186},{"d":77.1,"v":222},{"d":77.1,"v":212},{"d":77.1,"v":202},{"d":77.1,"v":192},{"d":77.1,"v":182},{"d":77.9,"v":218},{"d":77.9,"v":208},{"d":77.9,"v":198},{"d":77.9,"v":188},{"d":77.9,"v":172},{"d":78.7,"v":214},{"d":78.7,"v":204},{"d":78.7,"v":194},{"d":78.7,"v":184},{"d":79.5,"v":214},{"d":79.5,"v":204},{"d":79.5,"v":194},{"d":79.5,"v":184},{"d":79.5,"v":176},{"d":80.3,"v":216},{"d":80.3,"v":206},{"d":80.3,"v":196},{"d":80.3,"v":186},{"d":80.3,"v":176},{"d":81.1,"v":212},{"d":81.1,"v":202},{"d":81.1,"v":192},{"d":81.1,"v":182},{"d":81.1,"v":172},{"d":81.9,"v":208},{"d":81.9,"v":198},{"d":81.9,"v":188},{"d":81.9,"v":178},{"d":81.9,"v":170},{"d":82.7,"v":206},{"d":82.7,"v":196},{"d":82.7,"v":186},{"d":82.7,"v":176},{"d":82.7,"v":168},{"d":83.5,"v":204},{"d":83.5,"v":194},{"d":83.5,"v":184},{"d":83.5,"v":174},{"d":84.3,"v":198},{"d":84.3,"v":188},{"d":84.3,"v":178},{"d":84.3,"v":168},{"d":85.1,"v":200},{"d":85.1,"v":190},{"d":85.1,"v":180},{"d":85.1,"v":170},{"d":85.9,"v":196},{"d":85.9,"v":186},{"d":85.9,"v":176},{"d":85.9,"v":166},{"d":86.7,"v":198},{"d":86.7,"v":188},{"d":86.7,"v":178},{"d":86.7,"v":168},{"d":86.7,"v":162},{"d":87.5,"v":204},{"d":87.5,"v":194},{"d":87.5,"v":184},{"d":87.5,"v":174},{"d":87.5,"v":164},{"d":88.3,"v":200},{"d":88.3,"v":190},{"d":88.3,"v":180},{"d":88.3,"v":170},{"d":88.3,"v":160},{"d":89.1,"v":196},{"d":89.1,"v":186},{"d":89.1,"v":176},{"d":89.1,"v":166},{"d":89.1,"v":158},{"d":89.9,"v":192},{"d":89.9,"v":182},{"d":89.9,"v":172},{"d":89.9,"v":162},{"d":90.7,"v":190},{"d":90.7,"v":180},{"d":90.7,"v":170},{"d":90.7,"v":160},{"d":91.6,"v":288},{"d":91.6,"v":280},{"d":91.6,"v":212},{"d":92.1,"v":203},{"d":91.5,"v":188},{"d":91.5,"v":178},{"d":91.5,"v":168},{"d":91.5,"v":158},{"d":92,"v":148},{"d":92,"v":130},{"d":92,"v":120},{"d":92,"v":95},{"d":92.2,"v":39},{"d":92.2,"v":7},{"d":92.4,"v":184},{"d":92.4,"v":174},{"d":92.4,"v":164},{"d":92.4,"v":154},{"d":93.2,"v":176},{"d":93.2,"v":166},{"d":93.2,"v":156},{"d":93.2,"v":148},{"d":93.4,"v":143},{"d":93.4,"v":137},{"d":93.4,"v":130},{"d":93.6,"v":122},{"d":93.6,"v":115},{"d":93.6,"v":106},{"d":93.6,"v":100},{"d":93.6,"v":92},{"d":93.6,"v":84},{"d":93.6,"v":78},{"d":93.6,"v":70},{"d":93.6,"v":65},{"d":93.6,"v":57},{"d":93.6,"v":50},{"d":93.6,"v":45},{"d":93.6,"v":38},{"d":93.6,"v":30},{"d":93.6,"v":27},{"d":93.6,"v":15},{"d":93.6,"v":11},{"d":93.6,"v":7},{"d":93.6,"v":0},{"d":94.2,"v":128},{"d":94.2,"v":122},{"d":94.4,"v":45},{"d":94.4,"v":28},{"d":94.4,"v":10},{"d":94.1,"v":186},{"d":94.1,"v":176},{"d":94.1,"v":166},{"d":94.1,"v":156},{"d":94.9,"v":184},{"d":94.9,"v":174},{"d":94.9,"v":164},{"d":94.9,"v":154},{"d":95.7,"v":186},{"d":95.7,"v":176},{"d":95.7,"v":166},{"d":95.7,"v":156},{"d":96.5,"v":182},{"d":96.5,"v":172},{"d":96.5,"v":162},{"d":96.5,"v":152},{"d":97.3,"v":182},{"d":97.3,"v":172},{"d":97.3,"v":162},{"d":97.3,"v":150},{"d":98.1,"v":180},{"d":98.1,"v":170},{"d":98.1,"v":160},{"d":98.1,"v":150},{"d":98.9,"v":180},{"d":98.9,"v":170},{"d":98.9,"v":160},{"d":98.9,"v":150},{"d":98.9,"v":144},{"d":99.7,"v":180},{"d":99.7,"v":170},{"d":99.7,"v":160},{"d":99.7,"v":150},{"d":100.5,"v":180},{"d":100.5,"v":170},{"d":100.5,"v":160},{"d":100.5,"v":150},{"d":101,"v":111},{"d":101.3,"v":178},{"d":101.3,"v":168},{"d":101.3,"v":158},{"d":101.3,"v":148},{"d":101.3,"v":142},{"d":102.1,"v":174},{"d":102.1,"v":164},{"d":102.1,"v":154},{"d":102.1,"v":144},{"d":102.9,"v":170},{"d":102.9,"v":160},{"d":102.9,"v":150},{"d":102.9,"v":140},{"d":103.7,"v":176},{"d":103.7,"v":166},{"d":103.7,"v":156},{"d":103.7,"v":146},{"d":103.7,"v":136},{"d":104.5,"v":176},{"d":104.5,"v":166},{"d":104.5,"v":156},{"d":104.5,"v":146},{"d":104.5,"v":136},{"d":105.3,"v":172},{"d":105.3,"v":162},{"d":105.3,"v":152},{"d":105.3,"v":142},{"d":105.3,"v":134},{"d":106.1,"v":172},{"d":106.1,"v":162},{"d":106.1,"v":152},{"d":106.1,"v":142},{"d":106.1,"v":132},{"d":106.9,"v":174},{"d":106.9,"v":164},{"d":106.9,"v":154},{"d":106.9,"v":144},{"d":106.9,"v":132},{"d":107.7,"v":172},{"d":107.7,"v":162},{"d":107.7,"v":152},{"d":107.7,"v":142},{"d":107.7,"v":130},{"d":108.5,"v":168},{"d":108.5,"v":158},{"d":108.5,"v":148},{"d":108.5,"v":138},{"d":108.5,"v":130},{"d":109.3,"v":170},{"d":109.3,"v":160},{"d":109.3,"v":150},{"d":109.3,"v":140},{"d":109.3,"v":130},{"d":110.1,"v":166},{"d":110.1,"v":156},{"d":110.1,"v":146},{"d":110.1,"v":136},{"d":110.1,"v":128},{"d":110.9,"v":164},{"d":110.9,"v":154},{"d":110.9,"v":144},{"d":110.9,"v":134},{"d":110.9,"v":126},{"d":111.7,"v":164},{"d":111.7,"v":154},{"d":111.7,"v":144},{"d":111.7,"v":134},{"d":111.7,"v":124},{"d":112.5,"v":164},{"d":112.5,"v":154},{"d":112.5,"v":144},{"d":112.5,"v":134},{"d":112.5,"v":126},{"d":113.3,"v":162},{"d":113.3,"v":152},{"d":113.3,"v":142},{"d":113.3,"v":132},{"d":113.3,"v":124},{"d":114.1,"v":158},{"d":114.1,"v":148},{"d":114.1,"v":138},{"d":114.1,"v":128},{"d":114.1,"v":122},{"d":114.9,"v":156},{"d":114.9,"v":146},{"d":114.9,"v":136},{"d":114.9,"v":126},{"d":115.7,"v":156},{"d":115.7,"v":146},{"d":115.7,"v":136},{"d":115.7,"v":126},{"d":115.7,"v":120},{"d":116,"v":172},{"d":116.5,"v":156},{"d":116.5,"v":146},{"d":116.5,"v":136},{"d":116.5,"v":126},{"d":116.5,"v":120},{"d":117.3,"v":154},{"d":117.3,"v":144},{"d":117.3,"v":134},{"d":117.3,"v":124},{"d":118.1,"v":154},{"d":118.1,"v":144},{"d":118.1,"v":134},{"d":118.1,"v":124},{"d":118.1,"v":118},{"d":118.9,"v":156},{"d":118.9,"v":146},{"d":118.9,"v":136},{"d":118.9,"v":126},{"d":118.9,"v":116},{"d":119.7,"v":156},{"d":119.7,"v":146},{"d":119.7,"v":136},{"d":119.7,"v":126},{"d":119.7,"v":118},{"d":120.5,"v":154},{"d":120.5,"v":144},{"d":120.5,"v":134},{"d":120.5,"v":124},{"d":120.5,"v":116},{"d":121.3,"v":156},{"d":121.3,"v":146},{"d":121.3,"v":136},{"d":121.3,"v":126},{"d":121.3,"v":116},{"d":122.1,"v":154},{"d":122.1,"v":144},{"d":122.1,"v":134},{"d":122.1,"v":124},{"d":122.1,"v":114},{"d":122.9,"v":148},{"d":122.9,"v":138},{"d":122.9,"v":128},{"d":122.9,"v":118},{"d":122.9,"v":110},{"d":123.7,"v":150},{"d":123.7,"v":140},{"d":123.7,"v":130},{"d":123.7,"v":120},{"d":123.7,"v":110},{"d":124.5,"v":148},{"d":124.5,"v":138},{"d":124.5,"v":128},{"d":124.5,"v":118},{"d":124.5,"v":110},{"d":125.3,"v":148},{"d":125.3,"v":138},{"d":125.3,"v":128},{"d":125.3,"v":118},{"d":125.3,"v":108},{"d":126.1,"v":146},{"d":126.1,"v":136},{"d":126.1,"v":126},{"d":126.1,"v":116},{"d":126.1,"v":106},{"d":126.9,"v":144},{"d":126.9,"v":134},{"d":126.9,"v":124},{"d":126.9,"v":114},{"d":126.9,"v":106},{"d":127.7,"v":144},{"d":127.7,"v":134},{"d":127.7,"v":124},{"d":127.7,"v":114},{"d":127.7,"v":108},{"d":128.5,"v":146},{"d":128.5,"v":136},{"d":128.5,"v":126},{"d":128.5,"v":116},{"d":128.5,"v":106},{"d":129.3,"v":144},{"d":129.3,"v":134},{"d":129.3,"v":124},{"d":129.3,"v":114},{"d":129.3,"v":106},{"d":130.1,"v":144},{"d":130.1,"v":134},{"d":130.1,"v":124},{"d":130.1,"v":114},{"d":130.1,"v":104},{"d":130.9,"v":142},{"d":130.9,"v":132},{"d":130.9,"v":122},{"d":130.9,"v":112},{"d":130.9,"v":104},{"d":131.7,"v":142},{"d":131.7,"v":132},{"d":131.7,"v":122},{"d":131.7,"v":112},{"d":132.5,"v":140},{"d":132.5,"v":130},{"d":132.5,"v":120},{"d":132.5,"v":110},{"d":133,"v":92},{"d":133.3,"v":136},{"d":133.3,"v":126},{"d":133.3,"v":116},{"d":133.3,"v":106},{"d":134.1,"v":138},{"d":134.1,"v":128},{"d":134.1,"v":118},{"d":134.1,"v":108},{"d":134.9,"v":136},{"d":134.9,"v":126},{"d":134.9,"v":116},{"d":134.9,"v":106},{"d":135.2,"v":92},{"d":135.7,"v":142},{"d":135.7,"v":132},{"d":135.7,"v":122},{"d":135.7,"v":112},{"d":135.7,"v":104},{"d":136.5,"v":136},{"d":136.5,"v":126},{"d":136.5,"v":116},{"d":136.5,"v":106},{"d":137.3,"v":134},{"d":137.3,"v":124},{"d":137.3,"v":114},{"d":137.3,"v":104},{"d":137.3,"v":100},{"d":138.1,"v":172},{"d":138.2,"v":152},{"d":138.2,"v":146},{"d":138.2,"v":138},{"d":138.2,"v":130},{"d":138.2,"v":122},{"d":138.2,"v":114},{"d":138.2,"v":106},{"d":139,"v":134},{"d":139,"v":124},{"d":139,"v":114},{"d":139.8,"v":128},{"d":139.8,"v":118},{"d":139.8,"v":108},{"d":140.5,"v":124},{"d":140.5,"v":114},{"d":140.5,"v":108},{"d":140.8,"v":148},{"d":141,"v":136},{"d":141,"v":124},{"d":141,"v":116},{"d":141,"v":108}]},"mark":{"type":"circle","size":132,"opacity":1},"encoding":{"x":{"field":"d","type":"quantitative"},"y":{"field":"v","type":"quantitative"},"color":{"datum":"Aygue Nègre"}}}]}
